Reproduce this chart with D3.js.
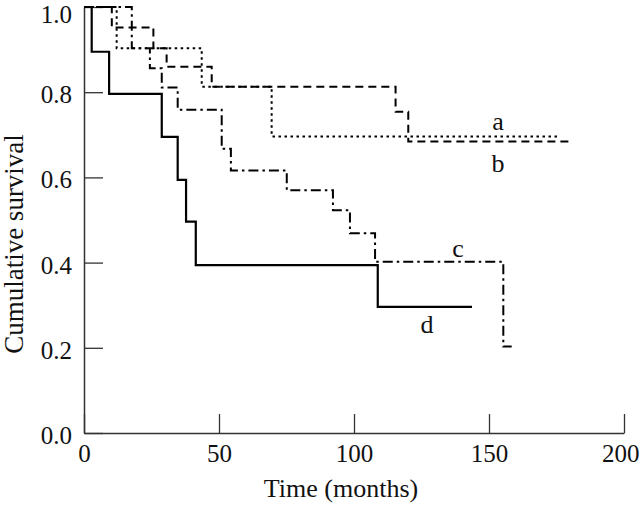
<!DOCTYPE html>
<html>
<head>
<meta charset="utf-8">
<script src="https://cdn.jsdelivr.net/npm/d3@7"></script>
<style>
  html, body { margin: 0; padding: 0; background: #fff; }
  svg { display: block; }
  text { font-family: "Liberation Serif", "Times New Roman", serif; fill: #111; }
</style>
</head>
<body>
<div id="chart"></div>
<script>
// Kaplan-Meier step data: [time (months), cumulative survival after the step]
const curveA = [[0, 1.0], [12.1, 0.903], [43.6, 0.813], [69.5, 0.696], [175.4, 0.696]];
const curveB = [[0, 1.0], [10.3, 0.952], [25.7, 0.903], [30.6, 0.860], [47.3, 0.813], [115.4, 0.754], [120.1, 0.684], [180, 0.684]];
const curveC = [[0, 1.0], [17.7, 0.903], [24.4, 0.856], [28.8, 0.811], [34.7, 0.759], [51.0, 0.667], [54.4, 0.616], [75.1, 0.570], [92.2, 0.523], [98.5, 0.469], [107.8, 0.402], [155.3, 0.203], [158.4, 0.203]];
const curveD = [[0, 1.0], [2.85, 0.895], [9.3, 0.796], [28.8, 0.695], [34.7, 0.594], [37.8, 0.496], [41.4, 0.394], [108.8, 0.296], [143.7, 0.296]];

const xTicks = [0, 50, 100, 150, 200];
const yTicks = [0, 0.2, 0.4, 0.6, 0.8, 1.0];

const curveNames = ["a", "b", "c", "d"];
// label anchor (time, survival) at text baseline
const curveLabelPos = [[153.3, 0.711], [153.3, 0.613], [138.5, 0.413], [127, 0.235]];

const W = 640, H = 505;

const svg = d3.select("#chart").append("svg").attr("width", W).attr("height", H);

const x = d3.scaleLinear().domain([0, 200]).range([84, 624]);
const y = d3.scaleLinear().domain([0, 1]).range([433, 7]);

const axisColor = "#333";

// X axis (ticks inward)
const gx = svg.append("g").attr("transform", `translate(0,${y(0)})`)
  .call(d3.axisBottom(x).tickValues(xTicks).tickFormat(d3.format("d")).tickSizeInner(-19).tickSizeOuter(0).tickPadding(11));
gx.select(".domain").attr("stroke", axisColor).attr("stroke-width", 1.5);
gx.selectAll(".tick line").attr("stroke", axisColor).attr("stroke-width", 1.3);
gx.selectAll(".tick text").attr("font-size", 25).attr("font-family", "Liberation Serif").attr("fill", "#111");
// keep the last label inside the picture edge
gx.selectAll(".tick text").filter(d => d === xTicks[xTicks.length - 1])
  .attr("text-anchor", "end").attr("x", W - x(xTicks[xTicks.length - 1]) - 1);

// Y axis (ticks inward)
const gy = svg.append("g").attr("transform", `translate(${x(0)},0)`)
  .call(d3.axisLeft(y).tickValues(yTicks).tickFormat(d3.format(".1f")).tickSizeInner(-19).tickSizeOuter(0).tickPadding(12));
gy.select(".domain").attr("stroke", axisColor).attr("stroke-width", 1.5);
gy.selectAll(".tick line").attr("stroke", axisColor).attr("stroke-width", 1.3);
gy.selectAll(".tick text").attr("font-size", 25).attr("font-family", "Liberation Serif").attr("fill", "#111")
  .attr("dy", d => d === 1 ? "0.62em" : "0.42em");

// Axis titles
svg.append("text").attr("x", 341).attr("y", 497).attr("text-anchor", "middle")
  .attr("font-size", 26).text("Time (months)");
svg.append("text").attr("transform", `translate(23,244) rotate(-90)`).attr("text-anchor", "middle")
  .attr("font-size", 27).text("Cumulative survival");

const line = d3.line().x(d => x(d[0])).y(d => y(d[1])).curve(d3.curveStepAfter);

const curves = [curveA, curveB, curveC, curveD];
const dashes = ["2.5,3.5", "8,5", "10,4,2.5,4", null];
const widths = [2, 2, 2, 2.2];

curves.forEach((c, i) => {
  const p = svg.append("path").datum(c)
    .attr("d", line)
    .attr("fill", "none")
    .attr("stroke", "#000")
    .attr("stroke-width", widths[i]);
  if (dashes[i]) p.attr("stroke-dasharray", dashes[i]);
});

// Curve labels
curveNames.forEach((n, i) => {
  svg.append("text").attr("x", x(curveLabelPos[i][0])).attr("y", y(curveLabelPos[i][1]))
    .attr("text-anchor", "middle")
    .attr("font-size", 26).text(n);
});
</script>
</body>
</html>
